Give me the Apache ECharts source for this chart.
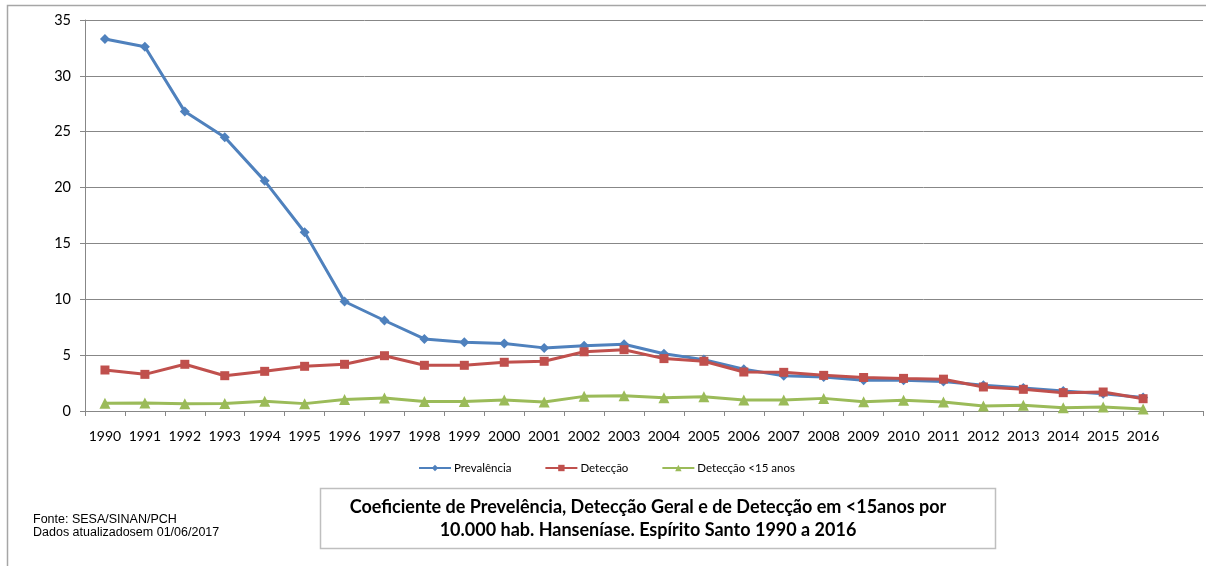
<!DOCTYPE html>
<html><head><meta charset="utf-8">
<script src="https://cdn.jsdelivr.net/npm/echarts@6/dist/echarts.min.js"></script>
<style>html,body{margin:0;padding:0;background:#fff}#c{width:1206px;height:566px}</style>
</head><body><div id="c"></div>
<script>
const years = ['1990','1991','1992','1993','1994','1995','1996','1997','1998','1999','2000','2001','2002','2003','2004','2005','2006','2007','2008','2009','2010','2011','2012','2013','2014','2015','2016',''];
const yTicks = [0, 5, 10, 15, 20, 25, 30, 35];
const prevalencia = [33.3, 32.6, 26.8, 24.5, 20.6, 16.0, 9.8, 8.1, 6.45, 6.15, 6.05, 5.65, 5.85, 5.97, 5.13, 4.6, 3.73, 3.16, 3.04, 2.75, 2.75, 2.65, 2.3, 2.05, 1.8, 1.55, 1.2];
const deteccao = [3.67, 3.28, 4.18, 3.16, 3.55, 4.0, 4.18, 4.95, 4.09, 4.09, 4.36, 4.45, 5.3, 5.49, 4.69, 4.45, 3.49, 3.46, 3.19, 3.0, 2.92, 2.85, 2.15, 1.94, 1.64, 1.7, 1.1];
const deteccao15 = [0.7, 0.72, 0.66, 0.67, 0.87, 0.66, 1.02, 1.16, 0.85, 0.85, 0.98, 0.8, 1.31, 1.37, 1.19, 1.28, 0.98, 0.98, 1.13, 0.83, 0.96, 0.8, 0.45, 0.51, 0.3, 0.36, 0.18];
const seriesNames = ['Prevalência', 'Detecção', 'Detecção <15 anos'];
const titleLines = ['Coeficiente de Prevelência, Detecção Geral e de Detecção em <15anos por', '10.000 hab. Hanseníase. Espírito Santo 1990 a 2016'];
const sourceLines = ['Fonte: SESA/SINAN/PCH', 'Dados atualizadosem 01/06/2017'];

const gray = '#878787';
const chart = echarts.init(document.getElementById('c'), null, {renderer: 'canvas'});
chart.setOption({
  animation: false,
  backgroundColor: '#fff',
  grid: {left: 85, right: 3, top: 20, bottom: 155, containLabel: false},
  legend: {
    left: 413, top: 457, itemWidth: 32, itemHeight: 8, itemGap: 33,
    textStyle: {fontFamily: 'Lato', fontSize: 11.5, color: '#000', padding: [0,0,0,-2]},
    data: seriesNames
  },
  xAxis: {
    type: 'category', data: years, boundaryGap: true,
    axisLine: {lineStyle: {color: gray, width: 1}},
    axisTick: {show: true, length: 5, lineStyle: {color: gray}},
    axisLabel: {color: '#000', fontFamily: 'Lato', fontSize: 14, margin: 18, interval: 0}
  },
  yAxis: {
    type: 'value', min: 0, max: 35, interval: 5,
    axisLine: {show: true, lineStyle: {color: gray, width: 1}},
    axisTick: {show: true, length: 5, lineStyle: {color: gray}},
    axisLabel: {color: '#000', fontFamily: 'Lato', fontSize: 14.5, margin: 14,
      formatter: v => yTicks.includes(v) ? String(v) : ''},
    splitLine: {lineStyle: {color: gray, width: 1}}
  },
  series: [
    {name: seriesNames[0], type: 'line', data: prevalencia, symbol: 'diamond', symbolSize: 10,
      lineStyle: {width: 3, color: '#4F81BD'}, itemStyle: {color: '#4F81BD'}},
    {name: seriesNames[1], type: 'line', data: deteccao, symbol: 'rect', symbolSize: 9,
      lineStyle: {width: 3, color: '#C0504D'}, itemStyle: {color: '#C0504D'}},
    {name: seriesNames[2], type: 'line', data: deteccao15, symbol: 'triangle', symbolSize: 11,
      lineStyle: {width: 3, color: '#9BBB59'}, itemStyle: {color: '#9BBB59'}}
  ],
  graphic: [
    {type: 'rect', shape: {x: 7.5, y: 5.5, width: 1300, height: 700}, style: {fill: 'none', stroke: '#a6a6a6', lineWidth: 1.5}, silent: true, z: -10},
    {type: 'rect', shape: {x: 320.5, y: 488.5, width: 675, height: 60}, style: {fill: '#fff', stroke: '#bfbfbf', lineWidth: 1.5}, silent: true},
    {type: 'text', x: 648, y: 507, style: {text: titleLines[0], font: 'bold 18px Lato', fill: '#000', align: 'center', verticalAlign: 'middle'}},
    {type: 'text', x: 648, y: 530, style: {text: titleLines[1], font: 'bold 18px Lato', fill: '#000', align: 'center', verticalAlign: 'middle'}},
    {type: 'text', x: 33, y: 520, style: {text: sourceLines[0], font: '12.5px "Liberation Sans"', fill: '#000', verticalAlign: 'middle'}},
    {type: 'text', x: 33, y: 533, style: {text: sourceLines[1], font: '12.5px "Liberation Sans"', fill: '#000', verticalAlign: 'middle'}}
  ]
});
</script></body></html>
